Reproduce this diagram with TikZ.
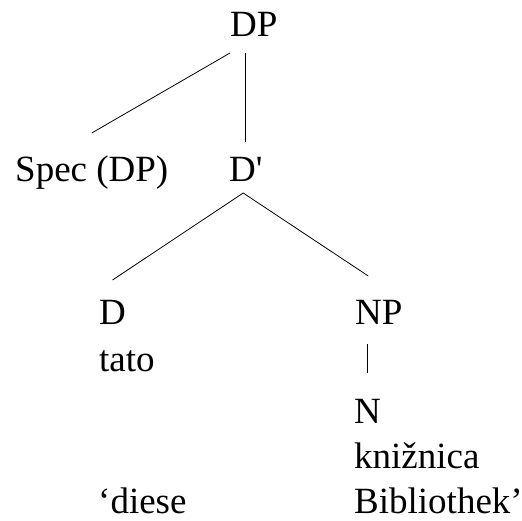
\documentclass[tikz,border=0pt]{standalone}
\usepackage{fontspec}
\setmainfont{Liberation Serif}
\usetikzlibrary{calc}
\begin{document}
\begin{tikzpicture}[x=1pt,y=-1pt,
    label/.style={anchor=base west,inner sep=0pt,font=\fontsize{37}{46}\selectfont},
    branch/.style={line width=0.8pt}]
    \useasboundingbox (0,0) rectangle (522,521);

    % Categories
    \node[label] (dp) at (230,37) {DP};
    \node[label] (spec) at (15,182) {Spec (DP)};
    \node[label] (dbar) at (229,182) {D\textquotesingle};
    \node[label] (d) at (99,324) {D};
    \node[label] (np) at (355,324) {NP};
    \node[label] (n) at (354,423) {N};
    % Words and gloss
    \node[label] (tato) at (99,371) {tato};
    \node[label] (kniznica) at (354,468) {knižnica};
    \node[label] (diese) at (98,513) {‘diese};
    \node[label] (bibliothek) at (354,513) {Bibliothek’};

    % Branches
    \draw[branch] ([yshift=-16pt]dp.base west) -- ([yshift=49pt]spec.base);
    \draw[branch] ($(dp.base -| dbar.base)+(0,16)$) -- ([yshift=40pt]dbar.base);
    \draw[branch] ([xshift=-2.7pt,yshift=-11pt]dbar.base) -- ([yshift=44pt]d.base);
    \draw[branch] ([xshift=-2.7pt,yshift=-11pt]dbar.base) -- ([xshift=-10.6pt,yshift=48pt]np.base);
    \draw[branch] ($(np.base -| n.base)+(0,20)$) -- ([yshift=50pt]n.base);
\end{tikzpicture}
\end{document}
